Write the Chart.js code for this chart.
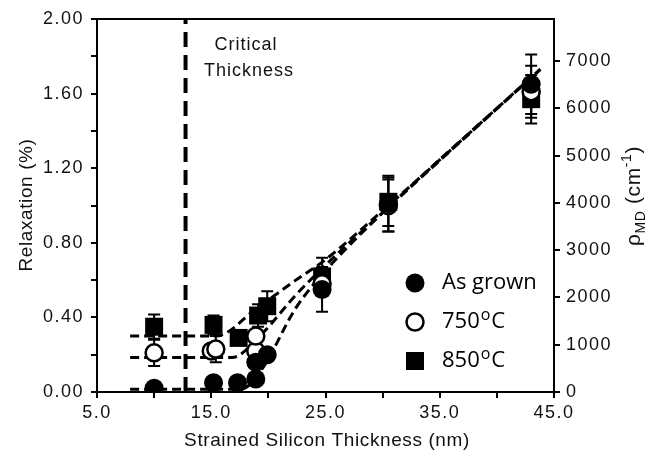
<!DOCTYPE html>
<html>
<head>
<meta charset="utf-8">
<script src="https://cdn.jsdelivr.net/npm/chart.js@4.4.0/dist/chart.umd.min.js"></script>
<style>
  html, body { margin: 0; padding: 0; background: #fff; }
</style>
</head>
<body>
<canvas id="c" width="665" height="459"></canvas>
<script>
const grownX = [10.0, 15.2, 17.3, 18.9, 18.9, 19.9, 24.7, 30.5, 43.0];
const grownY = [0.02, 0.05, 0.05, 0.07, 0.16, 0.20, 0.55, 1.01, 1.65];
const grownErr = [0, 0, 0, 0, 0, 0, 0.12, 0.15, 0.16];

const c750X = [10.0, 15.0, 15.4, 18.9, 18.9, 24.7, 30.5, 43.0];
const c750Y = [0.21, 0.22, 0.23, 0.22, 0.30, 0.58, 1.00, 1.61];
const c750Err = [0.07, 0, 0.07, 0, 0, 0, 0.14, 0.14];

const c850X = [10.0, 15.2, 17.4, 19.1, 19.9, 24.7, 30.5, 43.0];
const c850Y = [0.35, 0.36, 0.29, 0.41, 0.46, 0.62, 1.02, 1.57];
const c850Err = [0.065, 0.05, 0, 0.06, 0.08, 0.10, 0.13, 0.13];

// dashed fit curves
const fitGrownX = [7.9, 17.6, 19.4, 22.4, 25.0, 30.5, 43.8];
const fitGrownY = [0.015, 0.015, 0.12, 0.45, 0.65, 0.99, 1.73];
const fit750X = [7.9, 16.8, 19.4, 22.4, 25.0, 30.5, 43.8];
const fit750Y = [0.185, 0.185, 0.31, 0.52, 0.68, 0.99, 1.73];
const fit850X = [7.9, 15.4, 19.0, 22.4, 25.0, 30.5, 43.8];
const fit850Y = [0.30, 0.30, 0.45, 0.60, 0.71, 1.00, 1.73];

const criticalX = 12.75;

const xTicks = [5, 15, 25, 35, 45];
const rhoTicks = [0, 1000, 2000, 3000, 4000, 5000, 6000, 7000];

const pts = (xs, ys) => xs.map((x, i) => ({ x: x, y: ys[i] }));

const FONT = '"Liberation Sans", Arial, sans-serif';
const LFONT = '"Open Sans", "Noto Sans", sans-serif';

const fitStyle = {
  type: 'line', showLine: true, pointRadius: 0, borderColor: '#000',
  borderWidth: 3, borderDash: [9, 5], fill: false, tension: 0,
  cubicInterpolationMode: 'monotone', order: 5
};

const extras = {
  id: 'extras',
  beforeDraw(chart) {
    chart.ctx.letterSpacing = '1.5px';
  },
  beforeDatasetsDraw(chart) {
    const { ctx, scales: { x, y } } = chart;
    ctx.save();
    ctx.strokeStyle = '#000';
    ctx.lineWidth = 2;
    const bars = (xs, ys, es) => xs.forEach((v, i) => {
      if (!es[i]) return;
      const px = x.getPixelForValue(v);
      const top = y.getPixelForValue(ys[i] + es[i]);
      const bot = y.getPixelForValue(ys[i] - es[i]);
      ctx.beginPath();
      ctx.moveTo(px, top); ctx.lineTo(px, bot);
      ctx.moveTo(px - 6, top); ctx.lineTo(px + 6, top);
      ctx.moveTo(px - 6, bot); ctx.lineTo(px + 6, bot);
      ctx.stroke();
    });
    bars(c850X, c850Y, c850Err);
    bars(c750X, c750Y, c750Err);
    bars(grownX, grownY, grownErr);
    ctx.restore();
  },
  afterDraw(chart) {
    const { ctx, chartArea: a } = chart;
    ctx.save();
    ctx.letterSpacing = '1px';
    // top frame
    ctx.strokeStyle = '#000';
    ctx.lineWidth = 2;
    ctx.beginPath();
    ctx.moveTo(a.left - 1, a.top); ctx.lineTo(a.right + 1, a.top);
    ctx.stroke();

    ctx.fillStyle = '#111';
    ctx.textBaseline = 'middle';
    ctx.textAlign = 'center';
    ctx.font = '18px ' + FONT;
    ctx.fillText('Critical', 246, 45);
    ctx.fillText('Thickness', 249, 71);

    // axis titles
    ctx.letterSpacing = '0.6px';
    ctx.font = '19px ' + FONT;
    ctx.fillText('Strained Silicon Thickness (nm)', 327, 441);
    ctx.save();
    ctx.translate(27, 205);
    ctx.rotate(-Math.PI / 2);
    ctx.fillText('Relaxation (%)', 0, 0);
    ctx.restore();

    // right title with sub/superscripts
    ctx.save();
    ctx.translate(634, 196);
    ctx.rotate(-Math.PI / 2);
    ctx.textAlign = 'left';
    const parts = [
      ['\u03C1', '21px ' + FONT, 0],
      ['MD', '14px ' + FONT, 7],
      [' (cm', '21px ' + FONT, 0],
      ['-1', '14px ' + FONT, -7],
      [')', '21px ' + FONT, 0]
    ];
    let w = 0;
    parts.forEach(p => { ctx.font = p[1]; w += ctx.measureText(p[0]).width; });
    let cx = -w / 2;
    parts.forEach(p => {
      ctx.font = p[1];
      ctx.fillText(p[0], cx, p[2]);
      cx += ctx.measureText(p[0]).width;
    });
    ctx.restore();

    // legend
    ctx.letterSpacing = '0px';
    const lx = 415;
    const rows = [283, 322, 361];
    ctx.lineWidth = 2.5;
    ctx.fillStyle = '#000';
    ctx.beginPath(); ctx.arc(lx, rows[0], 9.5, 0, Math.PI * 2); ctx.fill();
    ctx.fillStyle = '#fff';
    ctx.beginPath(); ctx.arc(lx, rows[1], 8.5, 0, Math.PI * 2); ctx.fill(); ctx.stroke();
    ctx.fillStyle = '#000';
    ctx.fillRect(lx - 9, rows[2] - 9, 18, 18);

    ctx.textAlign = 'left';
    ctx.fillStyle = '#000';
    ctx.font = '22px ' + LFONT;
    ctx.fillText('As grown', 442, rows[0]);
    const sup = (num, yy) => {
      let px = 442;
      ctx.font = '22px ' + LFONT;
      ctx.fillText(num, px, yy);
      px += ctx.measureText(num).width + 1;
      ctx.font = '16px ' + LFONT;
      ctx.fillText('o', px, yy - 7);
      px += ctx.measureText('o').width + 1;
      ctx.font = '22px ' + LFONT;
      ctx.fillText('C', px, yy);
    };
    sup('750', rows[1]);
    sup('850', rows[2]);
    ctx.restore();
  }
};

const axisCommon = {
  grid: { display: true, drawOnChartArea: false, drawTicks: true, tickLength: 6, color: '#000', lineWidth: 2 },
  border: { display: true, color: '#000', width: 2 },
};

new Chart(document.getElementById('c'), {
  type: 'scatter',
  data: {
    datasets: [
      {
        label: 'As grown', data: pts(grownX, grownY), order: 1,
        pointStyle: 'circle', pointRadius: 9.5, backgroundColor: '#000', borderColor: '#000', borderWidth: 0
      },
      {
        label: '750 oC', data: pts(c750X, c750Y), order: 2,
        pointStyle: 'circle', pointRadius: 8.5, backgroundColor: '#fff', borderColor: '#000', borderWidth: 2.5
      },
      {
        label: '850 oC', data: pts(c850X, c850Y), order: 3,
        pointStyle: 'rect', pointRadius: 12.7, backgroundColor: '#000', borderColor: '#000', borderWidth: 0
      },
      Object.assign({ label: 'fit grown', data: pts(fitGrownX, fitGrownY) }, fitStyle),
      Object.assign({ label: 'fit 750', data: pts(fit750X, fit750Y) }, fitStyle),
      Object.assign({ label: 'fit 850', data: pts(fit850X, fit850Y) }, fitStyle),
      {
        type: 'line', label: 'critical', showLine: true, pointRadius: 0, order: 6,
        data: [{ x: criticalX, y: 0 }, { x: criticalX, y: 2 }],
        borderColor: '#000', borderWidth: 4, borderDash: [15, 8], fill: false
      }
    ]
  },
  options: {
    responsive: false,
    animation: false,
    events: [],
    layout: { padding: { top: 19, left: 0, right: 0, bottom: 0 } },
    plugins: { legend: { display: false }, tooltip: { enabled: false } },
    scales: {
      x: Object.assign({
        type: 'linear', min: 5, max: 45,
        afterFit: s => { s.height = 67; },
        afterBuildTicks: s => { s.ticks = [5, 10, 15, 20, 25, 30, 35, 40, 45].map(v => ({ value: v })); },
        ticks: {
          color: '#111', font: { family: FONT, size: 18 }, padding: 4, autoSkip: false, maxRotation: 0,
          callback: v => xTicks.includes(v) ? v.toFixed(1) : ''
        }
      }, axisCommon),
      y: Object.assign({
        position: 'left', min: 0, max: 2,
        afterFit: s => { s.width = 97; },
        ticks: {
          color: '#111', font: { family: FONT, size: 18 }, padding: 7, stepSize: 0.2, autoSkip: false,
          callback: v => (Math.round(v * 10) % 4 === 0) ? v.toFixed(2) : ''
        }
      }, axisCommon),
      y2: Object.assign({
        position: 'right', min: 0, max: 7890,
        afterFit: s => { s.width = 111; },
        afterBuildTicks: s => { s.ticks = rhoTicks.map(v => ({ value: v })); },
        ticks: {
          color: '#111', font: { family: FONT, size: 18 }, padding: 6, autoSkip: false,
          callback: v => String(v)
        }
      }, axisCommon)
    }
  },
  plugins: [extras]
});
</script>
</body>
</html>
